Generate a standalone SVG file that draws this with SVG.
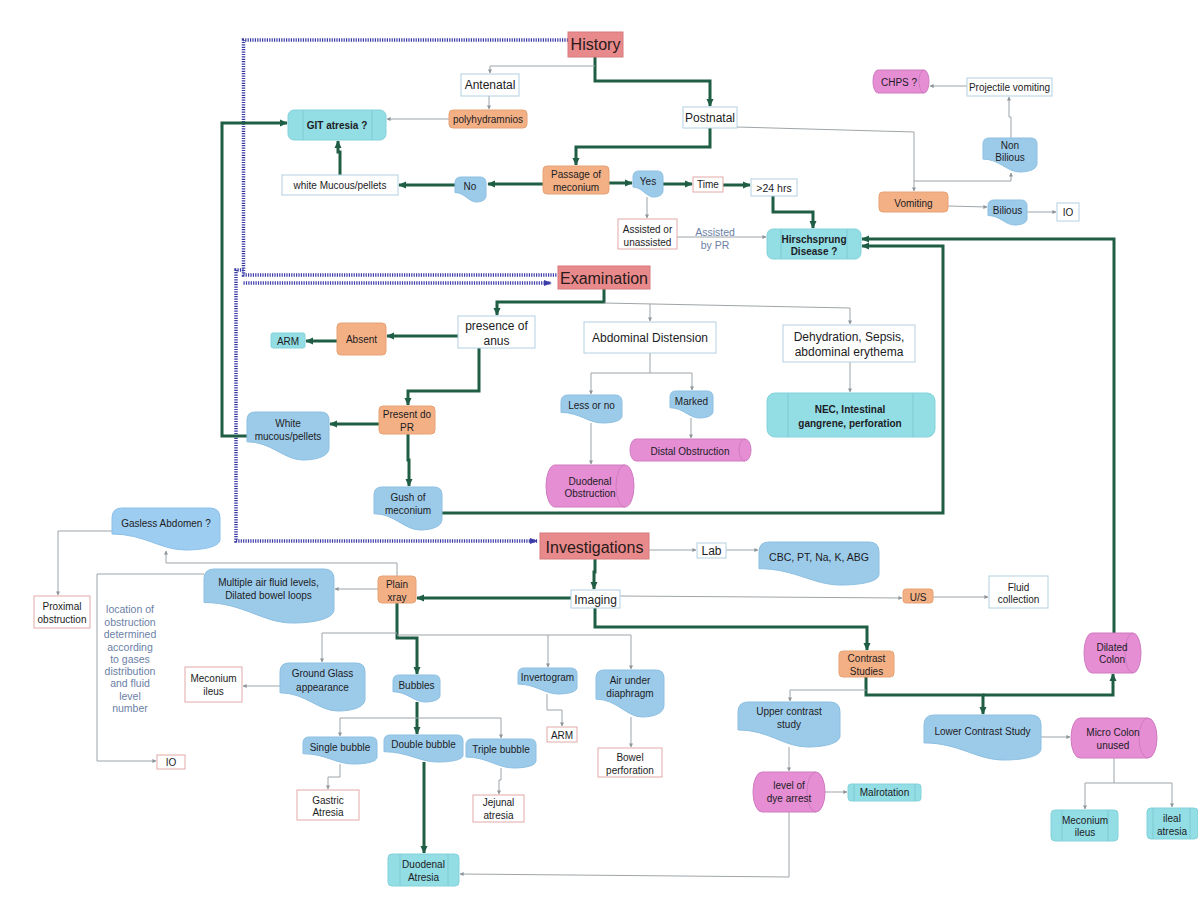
<svg xmlns="http://www.w3.org/2000/svg" width="1198" height="900" viewBox="0 0 1198 900">
<style>
.hdr{fill:#e8898b;stroke:#d67a7c;stroke-width:1}
.org{fill:#f3b085;stroke:#e6a274;stroke-width:1}
.doc{fill:#9ccbea;stroke:#8cbfe2;stroke-width:1}
.doc2{fill:#9ecdf2;stroke:#8cc0ea;stroke-width:1}
.cyn{fill:#93dde4;stroke:#84d2da;stroke-width:1}
.inl{fill:none;stroke:#7ccbd3;stroke-width:1}
.cyl{fill:#e58ed4;stroke:#cf7bc0;stroke-width:1}
.cyi{fill:none;stroke:#cf7bc0;stroke-width:1}
.wb{fill:#fff;stroke:#b3d0e3;stroke-width:1}
.wr{fill:#fff;stroke:#e2aaaa;stroke-width:1}
text{font-family:"Liberation Sans",Arial,sans-serif;font-size:10px;fill:#1c1c24;text-anchor:middle}
.t12{font-size:12px}
.hd{font-size:16px;fill:#2a1a1a}
.b{font-weight:bold}
.note{fill:#6b7fa6;font-size:10.5px}
.g{fill:none;stroke:#1f5e45;stroke-width:3;marker-end:url(#ag)}
.s{fill:none;stroke:#9ea4a8;stroke-width:1;marker-end:url(#as)}
.d{fill:none;stroke:#3c3ca8;stroke-width:3.5;stroke-dasharray:1.2 1.2}
.da{marker-end:url(#ad)}
</style>
<defs>
<marker id="ag" markerUnits="userSpaceOnUse" markerWidth="8" markerHeight="8" viewBox="0 0 10 10" refX="9" refY="5" orient="auto"><path d="M0,0.5 L10,5 L0,9.5 z" fill="#1f5e45"/></marker>
<marker id="as" markerUnits="userSpaceOnUse" markerWidth="4" markerHeight="4" viewBox="0 0 10 10" refX="9" refY="5" orient="auto"><path d="M0,0 L10,5 L0,10 z" fill="#8e959a"/></marker>
<marker id="ad" markerUnits="userSpaceOnUse" markerWidth="8" markerHeight="8" viewBox="0 0 10 10" refX="9" refY="5" orient="auto"><path d="M0,1 L10,5 L0,9 z" fill="#3c3ca8"/></marker>
</defs>
<rect width="1198" height="900" fill="#fff"/>

<g id="connectors">
<path class="d" d="M568,40 H243.5 V275 H557"/>
<path class="d da" d="M243.5,283 H551"/>
<path class="d da" d="M243.5,270 H236 V541 H537"/>

<path class="g" d="M595,57 V81 H710 V106"/>
<path class="g" d="M710,128 V147 H576 V165"/>
<path class="g" d="M543,184 H488"/>
<path class="g" d="M455,185 H399"/>
<path class="g" d="M340,175 V152 H338 V141"/>
<path class="g" d="M609,183 H632"/>
<path class="g" d="M663,184 H692"/>
<path class="g" d="M723,185 H750"/>
<path class="g" d="M773,196 V212 H813 V228"/>
<path class="g" d="M442,513 H943 V246 H862"/>
<path class="g" d="M1114,633 V239 H862"/>
<path class="g" d="M604,289 V302 H497 V315"/>
<path class="g" d="M458,336 H387"/>
<path class="g" d="M337,341 H306"/>
<path class="g" d="M479,348 V391 H408 V405"/>
<path class="g" d="M379,424 H330"/>
<path class="g" d="M408,434 V460 H409 V486"/>
<path class="g" d="M247,436 H222 V123 H287"/>
<path class="g" d="M595,559 V572 H594 V589"/>
<path class="g" d="M571,598 H417"/>
<path class="g" d="M595,608 V627 H867 V650"/>
<path class="g" d="M397,603 V638 H417 V674"/>
<path class="g" d="M417,702 V734"/>
<path class="g" d="M424,762 V853"/>
<path class="g" d="M866,677 V695 H983 V714"/>
<path class="g" d="M983,695 H1113 V674"/>

<path class="s" d="M595,66 H490 V73"/>
<path class="s" d="M489,96 V109"/>
<path class="s" d="M449,119 H387"/>
<path class="s" d="M737,127 L914,132 V191"/>
<path class="s" d="M914,181 H1011 V173"/>
<path class="s" d="M1011,138 V117 H1009 V97"/>
<path class="s" d="M967,86 H930"/>
<path class="s" d="M948,206 L987,207"/>
<path class="s" d="M1027,212 H1056"/>
<path class="s" d="M647,197 V218"/>
<path class="s" d="M677,237 H766"/>
<path class="s" d="M604,303 L850,308 V324"/>
<path class="s" d="M650,304 V321"/>
<path class="s" d="M650,353 V373 H591 V394"/>
<path class="s" d="M650,373 H692 V390"/>
<path class="s" d="M591,423 V464"/>
<path class="s" d="M691,418 V438"/>
<path class="s" d="M850,362 V392"/>
<path class="s" d="M649,550 H696"/>
<path class="s" d="M726,550 H758"/>
<path class="s" d="M620,596 L902,598"/>
<path class="s" d="M933,597 H988"/>
<path class="s" d="M397,576 V563 H166 V551"/>
<path class="s" d="M378,589 H335"/>
<path class="s" d="M204,574 H97 V761 H156"/>
<path class="s" d="M112,531 H58 V595"/>
<path class="s" d="M397,633 H322 V662"/>
<path class="s" d="M397,635 H631 V669"/>
<path class="s" d="M548,635 V667"/>
<path class="s" d="M280,686 H243"/>
<path class="s" d="M340,718 H501 V738"/>
<path class="s" d="M340,718 V736"/>
<path class="s" d="M340,764 V777 H328 V789"/>
<path class="s" d="M501,768 V780 H499 V794"/>
<path class="s" d="M547,694 V710 H562 V726"/>
<path class="s" d="M631,717 V747"/>
<path class="s" d="M866,690 H790 V701"/>
<path class="s" d="M789,747 V771"/>
<path class="s" d="M825,792 H847"/>
<path class="s" d="M789,812 V877 L460,874"/>
<path class="s" d="M1041,737 H1070"/>
<path class="s" d="M1114,758 V783 H1085 V809"/>
<path class="s" d="M1114,783 H1172 V807"/>
</g>

<g id="n-history"><rect class="hdr" x="568" y="32" width="55" height="25"/><text class="hd" x="595.5" y="50">History</text></g>
<g id="n-antenatal"><rect class="wb" x="461" y="74" width="58" height="22"/><text class="t12" x="490" y="89">Antenatal</text></g>
<g id="n-poly"><rect class="org" x="449" y="110" width="78" height="18" rx="4"/><text x="488" y="122.5">polyhydramnios</text></g>
<g id="n-git"><rect class="cyn" x="288" y="110" width="98" height="30" rx="6"/><path class="inl" d="M303,110 V140 M372,110 V140"/><text class="b" x="337" y="128.5">GIT atresia ?</text></g>
<g id="n-postnatal"><rect class="wb" x="683" y="107" width="54" height="21"/><text class="t12" x="710" y="121.5">Postnatal</text></g>
<g id="n-whitemucous"><rect class="wb" x="282" y="175" width="116" height="20"/><text x="340" y="188.5">white Mucous/pellets</text></g>
<g id="n-no"><path class="doc" d="M455,183 Q455,177 461,177 H480 Q486,177 486,183 V195.8 C486,200 481.4,202 476.1,202 C469,202 464.3,192.5 455,192.5 Z"/><text x="470" y="189.5">No</text></g>
<g id="n-passage"><rect class="org" x="543" y="166" width="66" height="28" rx="4"/><text x="576" y="177.5">Passage of</text><text x="576" y="190.5">meconium</text></g>
<g id="n-yes"><path class="doc" d="M633,177 Q633,171 639,171 H657 Q663,171 663,177 V190.5 C663,194.9 658.5,197 653.4,197 C646.5,197 642,187.1 633,187.1 Z"/><text x="648" y="184.5">Yes</text></g>
<g id="n-time"><rect class="wr" x="693" y="177" width="30" height="15"/><text x="708" y="188">Time</text></g>
<g id="n-24hrs"><rect class="wb" x="751" y="179" width="46" height="17"/><text x="774" y="191.5" style="font-size:10.5px">&gt;24 hrs</text></g>
<g id="n-assisted"><rect class="wr" x="618" y="219" width="59" height="30"/><text x="647.5" y="232.5">Assisted or</text><text x="647.5" y="245.5">unassisted</text></g>
<g id="n-assistedpr"><text class="note" x="715" y="236">Assisted</text><text class="note" x="715" y="248.5">by PR</text></g>
<g id="n-hirsch"><rect class="cyn" x="767" y="229" width="94" height="30" rx="6"/><path class="inl" d="M781,229 V259 M847,229 V259"/><text class="b" x="814" y="242.5">Hirschsprung</text><text class="b" x="814" y="255">Disease ?</text></g>
<g id="n-chps"><path class="cyl" d="M878,70 H924 A5,11.5 0 0 1 924,93 H878 A5,11.5 0 0 1 878,70 Z"/><path class="cyi" d="M924,70 A5,11.5 0 0 0 924,93"/><text x="899" y="85.5">CHPS ?</text></g>
<g id="n-projectile"><rect class="wb" x="967" y="78" width="85" height="18"/><text x="1009.5" y="90.5">Projectile vomiting</text></g>
<g id="n-nonbilious"><path class="doc" d="M983,144 Q983,138 989,138 H1031 Q1037,138 1037,144 V163.5 C1037,169.3 1028.9,172 1019.7,172 C1007.3,172 999.2,159.1 983,159.1 Z"/><text x="1010" y="148.5">Non</text><text x="1010" y="160.5">Bilious</text></g>
<g id="n-vomiting"><rect class="org" x="879" y="192" width="69" height="20" rx="4"/><text x="913.5" y="206.5">Vomiting</text></g>
<g id="n-bilious"><path class="doc" d="M988,206 Q988,200 994,200 H1021 Q1027,200 1027,206 V218.8 C1027,223 1021.2,225 1014.5,225 C1005.6,225 999.7,215.5 988,215.5 Z"/><text x="1007.5" y="213.5">Bilious</text></g>
<g id="n-io-top"><rect class="wb" x="1057" y="203" width="22" height="18"/><text x="1068" y="215.5">IO</text></g>

<g id="n-examination"><rect class="hdr" x="558" y="266" width="92" height="23"/><text class="hd" x="604" y="283.5">Examination</text></g>
<g id="n-presence"><rect class="wb" x="458" y="316" width="77" height="32"/><text class="t12" x="496.5" y="330">presence of</text><text class="t12" x="496.5" y="345">anus</text></g>
<g id="n-absent"><rect class="org" x="337" y="323" width="49" height="32" rx="4"/><text x="361.5" y="343">Absent</text></g>
<g id="n-arm1"><rect class="cyn" x="271" y="333" width="34" height="15" rx="2"/><text x="288" y="344.5">ARM</text></g>
<g id="n-presentpr"><rect class="org" x="379" y="406" width="56" height="28" rx="4"/><text x="407" y="417.5">Present do</text><text x="407" y="430.5">PR</text></g>
<g id="n-whitemucous2"><path class="doc" d="M247,420 Q247,412 255,412 H321 Q329,412 329,420 V448 C329,456.2 316.7,460 302.8,460 C283.9,460 271.6,441.8 247,441.8 Z"/><text x="288" y="427">White</text><text x="288" y="440">mucous/pellets</text></g>
<g id="n-gush"><path class="doc" d="M374,495 Q374,487 382,487 H434 Q442,487 442,495 V519.3 C442,526.6 431.8,530 420.2,530 C404.6,530 394.4,513.7 374,513.7 Z"/><text x="408" y="500.5">Gush of</text><text x="408" y="513.5">meconium</text></g>
<g id="n-abdominal"><rect class="wb" x="584" y="322" width="132" height="31"/><text class="t12" x="650" y="342">Abdominal Distension</text></g>
<g id="n-dehydration"><rect class="wb" x="783" y="325" width="132" height="37"/><text class="t12" x="849" y="341">Dehydration, Sepsis,</text><text class="t12" x="849" y="356">abdominal erythema</text></g>
<g id="n-lessorno"><path class="doc" d="M561,402 Q561,395 568,395 H615 Q622,395 622,402 V416 C622,420.8 612.9,423 602.5,423 C588.5,423 579.3,412.4 561,412.4 Z"/><text x="591.5" y="409">Less or no</text></g>
<g id="n-marked"><path class="doc" d="M670,397 Q670,391 676,391 H707 Q713,391 713,397 V411.3 C713,415.8 706.6,418 699.2,418 C689.4,418 682.9,407.7 670,407.7 Z"/><text x="691.5" y="404.5">Marked</text></g>
<g id="n-distal"><path class="cyl" d="M636,439 H745 A6,11 0 0 1 745,461 H636 A6,11 0 0 1 636,439 Z"/><path class="cyi" d="M745,439 A6,11 0 0 0 745,461"/><text x="690" y="454.5">Distal Obstruction</text></g>
<g id="n-duodenalobs"><path class="cyl" d="M555,465 H625 A9,21 0 0 1 625,507 H555 A9,21 0 0 1 555,465 Z"/><path class="cyi" d="M625,465 A9,21 0 0 0 625,507"/><text x="590" y="484.5">Duodenal</text><text x="590" y="496.5">Obstruction</text></g>
<g id="n-nec"><rect class="cyn" x="767" y="393" width="168" height="44" rx="8"/><path class="inl" d="M788,393 V437 M913,393 V437"/><text class="b" x="850" y="412.5">NEC, Intestinal</text><text class="b" x="850" y="426.5">gangrene, perforation</text></g>

<g id="n-investigations"><rect class="hdr" x="540" y="533" width="109" height="26"/><text class="hd" x="594.5" y="552.5">Investigations</text></g>
<g id="n-lab"><rect class="wb" x="697" y="543" width="29" height="15"/><text class="t12" x="711.5" y="555">Lab</text></g>
<g id="n-cbc"><path class="doc" d="M759,552 Q759,542 769,542 H869 Q879,542 879,552 V574.3 C879,581.6 861,585 840.6,585 C813,585 795,568.7 759,568.7 Z"/><text x="819" y="560.5" style="font-size:10.5px">CBC, PT, Na, K, ABG</text></g>
<g id="n-imaging"><rect class="wb" x="571" y="590" width="49" height="18"/><text class="t12" x="595.5" y="604">Imaging</text></g>
<g id="n-us"><rect class="org" x="903" y="589" width="30" height="14" rx="3"/><text x="918" y="600.5">U/S</text></g>
<g id="n-fluid"><rect class="wb" x="989" y="576" width="59" height="32"/><text x="1018.5" y="590.5">Fluid</text><text x="1018.5" y="602.5">collection</text></g>
<g id="n-plainxray"><rect class="org" x="378" y="576" width="38" height="27" rx="4"/><text x="397" y="587.5">Plain</text><text x="397" y="600.5">xray</text></g>
<g id="n-contrast"><rect class="org" x="839" y="651" width="55" height="26" rx="4"/><text x="866.5" y="661.5">Contrast</text><text x="866.5" y="675">Studies</text></g>
<g id="n-dilated"><path class="cyl" d="M1092,633 H1133 A8,20 0 0 1 1133,673 H1092 A8,20 0 0 1 1092,633 Z"/><path class="cyi" d="M1133,633 A8,20 0 0 0 1133,673"/><text x="1112" y="650.5">Dilated</text><text x="1112" y="663">Colon</text></g>
<g id="n-upper"><path class="doc" d="M738,712 Q738,702 748,702 H830 Q840,702 840,712 V735.8 C840,743.4 824.7,747 807.4,747 C783.9,747 768.6,729.9 738,729.9 Z"/><text x="789" y="714.5">Upper contrast</text><text x="789" y="727.5">study</text></g>
<g id="n-lower"><path class="doc" d="M924,725 Q924,715 934,715 H1031 Q1041,715 1041,725 V748.8 C1041,756.4 1023.5,760 1003.6,760 C976.7,760 959.1,742.9 924,742.9 Z"/><text x="982.5" y="734.5">Lower Contrast Study</text></g>
<g id="n-microcolon"><path class="cyl" d="M1080,718 H1148 A9,20 0 0 1 1148,758 H1080 A9,20 0 0 1 1080,718 Z"/><path class="cyi" d="M1148,718 A9,20 0 0 0 1148,758"/><text x="1113" y="735.5">Micro Colon</text><text x="1113" y="748.5">unused</text></g>
<g id="n-dyearrest"><path class="cyl" d="M762,772 H816 A9,20 0 0 1 816,812 H762 A9,20 0 0 1 762,772 Z"/><path class="cyi" d="M816,772 A9,20 0 0 0 816,812"/><text x="789" y="788.5">level of</text><text x="789" y="801.5">dye arrest</text></g>
<g id="n-malrotation"><rect class="cyn" x="848" y="784" width="73" height="17" rx="3"/><path class="inl" d="M854,784 V801 M915,784 V801"/><text x="884.5" y="795.5">Malrotation</text></g>
<g id="n-meconium-r"><rect class="cyn" x="1051" y="810" width="67" height="31" rx="4"/><path class="inl" d="M1062,810 V841 M1108,810 V841"/><text x="1085" y="823.5">Meconium</text><text x="1085" y="835.5">ileus</text></g>
<g id="n-ileal"><rect class="cyn" x="1147" y="808" width="51" height="31" rx="4"/><path class="inl" d="M1153,808 V839 M1190,808 V839"/><text x="1172" y="821.5">ileal</text><text x="1172" y="834.5">atresia</text></g>

<g id="n-gasless"><path class="doc2" d="M112,518 Q112,508 122,508 H210 Q220,508 220,518 V539.5 C220,546.6 203.8,550 185.4,550 C160.6,550 144.4,534 112,534 Z"/><text x="166" y="526.5">Gasless Abdomen ?</text></g>
<g id="n-multiple"><path class="doc" d="M204,579 Q204,569 214,569 H324 Q334,569 334,579 V609.5 C334,618.7 314.5,623 292.4,623 C262.5,623 243,602.5 204,602.5 Z"/><text x="268.5" y="585.5">Multiple air fluid levels,</text><text x="268.5" y="598.5">Dilated bowel loops</text></g>
<g id="n-proximal"><rect class="wr" x="34" y="596" width="56" height="32"/><text x="62" y="610">Proximal</text><text x="62" y="622.5">obstruction</text></g>
<g id="n-location-note"><text class="note" x="130" y="613">location of</text><text class="note" x="130" y="625.5">obstruction</text><text class="note" x="130" y="637.5">determined</text><text class="note" x="130" y="650.5">according</text><text class="note" x="130" y="662.5">to gases</text><text class="note" x="130" y="675">distribution</text><text class="note" x="130" y="686.5">and fluid</text><text class="note" x="130" y="699.5">level</text><text class="note" x="130" y="711.5">number</text></g>
<g id="n-io-bottom"><rect class="wr" x="157" y="755" width="28" height="14"/><text x="171" y="765.5">IO</text></g>
<g id="n-meconium-l"><rect class="wr" x="185" y="667" width="57" height="35"/><text x="213.5" y="681.5">Meconium</text><text x="213.5" y="694.5">ileus</text></g>
<g id="n-groundglass"><path class="doc" d="M280,672 Q280,663 289,663 H356 Q365,663 365,672 V699 C365,707.2 352.3,711 337.8,711 C318.3,711 305.5,692.8 280,692.8 Z"/><text x="322.5" y="677">Ground Glass</text><text x="322.5" y="690.5">appearance</text></g>
<g id="n-bubbles"><path class="doc" d="M393,681 Q393,675 399,675 H434 Q440,675 440,681 V695.3 C440,699.8 433,702 425,702 C414.2,702 407.1,691.7 393,691.7 Z"/><text x="416.5" y="688.5">Bubbles</text></g>
<g id="n-single"><path class="doc" d="M303,743 Q303,737 309,737 H371 Q377,737 377,743 V757.3 C377,761.8 365.9,764 353.3,764 C336.3,764 325.2,753.7 303,753.7 Z"/><text x="340" y="750.5">Single bubble</text></g>
<g id="n-double"><path class="doc" d="M384,741 Q384,735 390,735 H457 Q463,735 463,741 V755.3 C463,759.8 451.2,762 437.7,762 C419.6,762 407.7,751.7 384,751.7 Z"/><text x="423.5" y="747.5">Double bubble</text></g>
<g id="n-triple"><path class="doc" d="M466,745 Q466,739 472,739 H530 Q536,739 536,745 V760.8 C536,765.7 525.5,768 513.6,768 C497.5,768 487,757 466,757 Z"/><text x="501" y="752.5">Triple bubble</text></g>
<g id="n-gastric"><rect class="wr" x="297" y="790" width="62" height="30"/><text x="328" y="803.5">Gastric</text><text x="328" y="815.5">Atresia</text></g>
<g id="n-jejunal"><rect class="wr" x="473" y="795" width="51" height="27"/><text x="498.5" y="805.5">Jejunal</text><text x="498.5" y="818.5">atresia</text></g>
<g id="n-duodenal-atresia"><rect class="cyn" x="388" y="854" width="71" height="32" rx="4"/><path class="inl" d="M400,854 V886 M448,854 V886"/><text x="423.5" y="867.5">Duodenal</text><text x="423.5" y="880.5">Atresia</text></g>
<g id="n-invertogram"><path class="doc" d="M518,674 Q518,668 524,668 H571 Q577,668 577,674 V687.5 C577,691.9 568.2,694 558.1,694 C544.6,694 535.7,684.1 518,684.1 Z"/><text x="547.5" y="680.5">Invertogram</text></g>
<g id="n-arm2"><rect class="wr" x="547" y="727" width="30" height="15"/><text x="562" y="738.5">ARM</text></g>
<g id="n-airunder"><path class="doc" d="M596,678 Q596,670 604,670 H656 Q664,670 664,678 V705.3 C664,713.2 653.8,717 642.2,717 C626.6,717 616.4,699.1 596,699.1 Z"/><text x="630" y="683.5">Air under</text><text x="630" y="696.5">diaphragm</text></g>
<g id="n-bowelperf"><rect class="wr" x="598" y="748" width="64" height="29"/><text x="630" y="760.5">Bowel</text><text x="630" y="773.5">perforation</text></g>
</svg>
